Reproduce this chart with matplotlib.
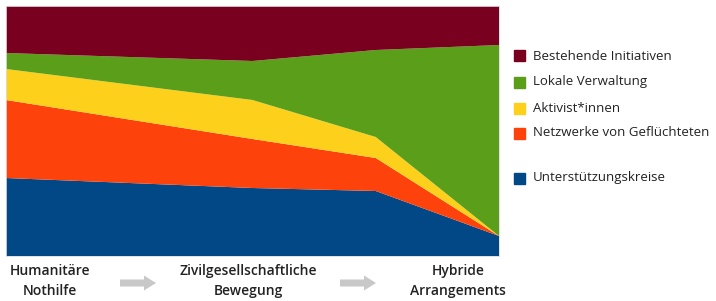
import numpy as np
import matplotlib.pyplot as plt
from matplotlib.patches import Rectangle, FancyArrow

plt.rcParams['font.family'] = ['Open Sans', 'DejaVu Sans']

# Phasen (x-Positionen der Knickpunkte)
x = [0, 2, 3, 4]
# Anteile (von unten nach oben gestapelt)
unterstuetzung = [31.2, 27.2, 26.0, 8.0]
netzwerke = [31.2, 19.6, 13.2, 0.0]
aktivisten = [12.4, 15.6, 8.4, 0.0]
verwaltung = [6.4, 15.6, 34.8, 76.4]
initiativen = [18.8, 22.0, 17.6, 15.6]

labels = ["Unterstützungskreise", "Netzwerke von Geflüchteten", "Aktivist*innen",
          "Lokale Verwaltung", "Bestehende Initiativen"]
colors = ["#024786", "#fd430b", "#fdd01c", "#5a9e1a", "#7a0020"]
phasen = ["Humanitäre\nNothilfe", "Zivilgesellschaftliche\nBewegung", "Hybride\nArrangements"]

fig = plt.figure(figsize=(7.16, 3.01), dpi=100)
ax = fig.add_axes([6 / 716, 45 / 301, 493 / 716, 250 / 301])
ax.stackplot(x, unterstuetzung, netzwerke, aktivisten, verwaltung, initiativen,
             colors=colors, linewidth=0)
ax.set_xlim(0, 4)
ax.set_ylim(0, 100)
ax.set_xticks([])
ax.set_yticks([])
for s in ax.spines.values():
    s.set_color("#dddddd")
    s.set_linewidth(0.6)

# Legende (manuell, mit Abstand vor dem letzten Eintrag)
leg_y = [56, 82, 108, 133, 178]
for i, (lab, col) in enumerate(zip(labels[::-1], colors[::-1])):
    yy = 1 - leg_y[i] / 301
    fig.patches.append(Rectangle((514 / 716, yy - 5.5 / 301), 11 / 716, 11 / 301,
                                 transform=fig.transFigure, color=col))
    fig.text(533 / 716, yy, lab, fontsize=9.5, va="center", ha="left", color="#222222")

# Phasen-Beschriftung
for px, txt in zip([50, 248, 458], phasen):
    fig.text(px / 716, 1 - 281 / 301, txt, fontsize=10, fontweight="semibold",
             ha="center", va="center", linespacing=1.6, color="#222222")

for x0 in [120, 340]:
    fig.patches.append(FancyArrow(x0 / 716, 1 - 283 / 301, 24 / 716, 0,
                                  width=7 / 301, head_width=15 / 301, head_length=12 / 716,
                                  length_includes_head=False, transform=fig.transFigure,
                                  color="#c8c8c8", linewidth=0))

fig.savefig("out.png", dpi=100)
